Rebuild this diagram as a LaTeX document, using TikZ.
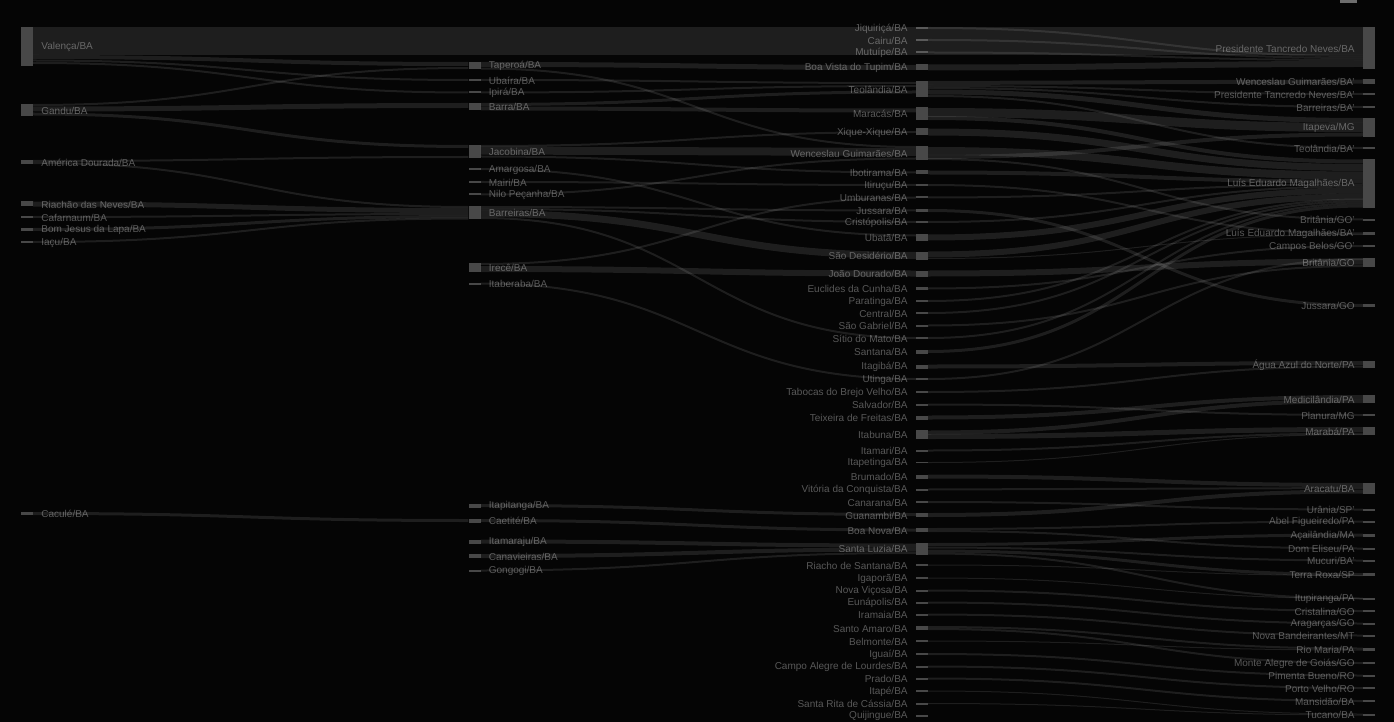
\documentclass[tikz,border=0pt]{standalone}
\usepackage{fontspec}
\setmainfont{Liberation Sans}
\usetikzlibrary{positioning, calc}
\definecolor{sk-bg}{RGB}{5,5,5}
\definecolor{sk-bar}{RGB}{72,72,72}
\definecolor{sk-text}{RGB}{88,88,88}

% band between two nodes: source, source offset, target, target offset, width
\newcommand{\flow}[5]{\draw[link=#5] let \p1=($(#1.east)+(0,#2)$), \p2=($(#3.west)+(0,#4)$) in
  (\p1) .. controls ({0.5*\x1+0.5*\x2},\y1) and ({0.5*\x1+0.5*\x2},\y2) .. (\p2);}

\begin{document}
\begin{tikzpicture}[
    x=1pt, y=-1pt,
    bar/.style={rectangle, fill=sk-bar, inner sep=0pt, minimum width=12pt, minimum height=#1},
    lbl/.style={text=sk-text, font=\fontsize{10}{12}\selectfont, inner sep=0pt, yshift=-0.8pt},
    lr/.style={label={[lbl, label distance=8pt]right:#1}},
    ll/.style={label={[lbl, label distance=8pt]left:#1}},
    link/.style={draw=white, draw opacity=0.1, line width=#1pt}
]
\fill[sk-bg] (0,0) rectangle (1394,722);
\useasboundingbox (0,0) rectangle (1394,722);
\node[rectangle, fill=sk-bar!80, inner sep=0pt, minimum width=17pt, minimum height=3pt] (menu) at (1348.5,1.5) {};

% column 1
\node[bar=39pt, lr={Valença/BA}] (valenca) at (27,46.5) {};
\node[bar=12pt, lr={Gandu/BA}] (gandu) at (27,110) {};
\node[bar=4pt, lr={América Dourada/BA}] (amdourada) at (27,162) {};
\node[bar=5pt, lr={Riachão das Neves/BA}] (riachao) at (27,204) {};
\node[bar=2pt, lr={Cafarnaum/BA}] (cafarnaum) at (27,217) {};
\node[bar=3pt, lr={Bom Jesus da Lapa/BA}] (bomjesus) at (27,229.5) {};
\node[bar=2pt, lr={Iaçu/BA}] (iacu) at (27,242) {};
\node[bar=3pt, lr={Caculé/BA}] (cacule) at (27,513.5) {};

% column 2
\node[bar=7pt, lr={Taperoá/BA}] (taperoa) at (474.5,65.5) {};
\node[bar=2pt, lr={Ubaíra/BA}] (ubaira) at (474.5,80) {};
\node[bar=2pt, lr={Ipirá/BA}] (ipira) at (474.5,92.5) {};
\node[bar=7pt, lr={Barra/BA}] (barra) at (474.5,106.5) {};
\node[bar=13pt, lr={Jacobina/BA}] (jacobina) at (474.5,151.5) {};
\node[bar=2pt, lr={Amargosa/BA}] (amargosa) at (474.5,169) {};
\node[bar=2pt, lr={Mairi/BA}] (mairi) at (474.5,182) {};
\node[bar=2pt, lr={Nilo Peçanha/BA}] (nilo) at (474.5,194.5) {};
\node[bar=13pt, lr={Barreiras/BA}] (barreiras) at (474.5,212.5) {};
\node[bar=9pt, lr={Irecê/BA}] (irece) at (474.5,267.5) {};
\node[bar=2pt, lr={Itaberaba/BA}] (itaberaba) at (474.5,283.5) {};
\node[bar=4pt, lr={Itapitanga/BA}] (itapitanga) at (474.5,505.5) {};
\node[bar=4pt, lr={Caetité/BA}] (caetite) at (474.5,520.5) {};
\node[bar=4pt, lr={Itamaraju/BA}] (itamaraju) at (474.5,541.5) {};
\node[bar=4pt, lr={Canavieiras/BA}] (canavieiras) at (474.5,556) {};
\node[bar=2pt, lr={Gongogi/BA}] (gongogi) at (474.5,570.5) {};

% column 3
\foreach \id/\y/\h/\txt in {
    jiquirica/28/2/Jiquiriçá, cairu/40/2/Cairu, mutuipe/52.5/2/Mutuípe,
    boavista/67.5/6/Boa Vista do Tupim, teolandia/89/16/Teolândia,
    maracas/113.5/13/Maracás, xique/132/7/Xique-Xique,
    wenceslau/153/14/Wenceslau Guimarães, ibotirama/172.5/4/Ibotirama,
    itirucu/185/2/Itiruçu, umburanas/197.5/2/Umburanas, jussara/210.5/3/Jussara,
    cristopolis/222/2/Cristópolis, ubata/237.5/7/Ubatã,
    saodesiderio/255.5/8/São Desidério, joaodourado/273.5/6/João Dourado,
    euclides/288.5/3/Euclides da Cunha, paratinga/301/2/Paratinga,
    central/313/2/Central, saogabriel/325.5/2/São Gabriel,
    sitio/338/2/Sítio do Mato, santana/351.5/4/Santana, itagiba/366.5/4/Itagibá,
    utinga/379/2/Utinga, tabocas/392/2/Tabocas do Brejo Velho,
    salvador/404.5/2/Salvador, teixeira/417.5/4/Teixeira de Freitas,
    itabuna/434.5/9/Itabuna, itamari/450.5/2/Itamari,
    itapetinga/462.5/1.5/Itapetinga, brumado/476.5/4/Brumado,
    vitoria/489.5/2/Vitória da Conquista, canarana/502/2/Canarana,
    guanambi/515/4/Guanambi, boanova/530/4/Boa Nova,
    santaluzia/548.5/12/Santa Luzia, riacho/565/2/Riacho de Santana,
    igapora/578/2/Igaporã, novavicosa/590.5/2/Nova Viçosa,
    eunapolis/602.5/2/Eunápolis, iramaia/614.5/2/Iramaia,
    santoamaro/628/4/Santo Amaro, belmonte/641/2/Belmonte, iguai/654/2/Iguaí,
    campoalegre/666.5/2/Campo Alegre de Lourdes, prado/678.5/2/Prado,
    itape/691/2/Itapé, santarita/703.5/2/Santa Rita de Cássia,
    quijingue/715.5/2/Quijingue}
  \node[bar=\h pt, ll={\txt/BA}] (\id) at (922,\y) {};

% column 4
\foreach \id/\y/\h/\txt/\uf in {
    ptn/48/42/Presidente Tancredo Neves/BA, wenceslauP/81.5/5/Wenceslau Guimarães/BA’,
    ptnP/94/2/Presidente Tancredo Neves/BA’, barreirasP/107/2/Barreiras/BA’,
    itapeva/127.5/19/Itapeva/MG, teolandiaP/148/2/Teolândia/BA’,
    lem/183.5/49/Luís Eduardo Magalhães/BA, britaniaP/219.5/2/Britânia/GO’,
    lemP/233.5/3/Luís Eduardo Magalhães/BA’, camposP/246/2/Campos Belos/GO’,
    britania/262.5/9/Britânia/GO, jussaraGO/305.5/3/Jussara/GO,
    aguaazul/364/7/Água Azul do Norte/PA, medicilandia/399/8/Medicilândia/PA,
    planura/415/2/Planura/MG, maraba/431/8/Marabá/PA, aracatu/488.5/11/Aracatu/BA,
    urania/509.5/2/Urânia/SP’, abel/521.5/2/Abel Figueiredo/PA,
    acailandia/535/3/Açailândia/MA, domeliseu/548.5/2/Dom Eliseu/PA,
    mucuri/560.5/2/Mucuri/BA’, terraroxa/574.5/3/Terra Roxa/SP,
    itupiranga/598.5/2/Itupiranga/PA, cristalina/611/2/Cristalina/GO,
    aragarcas/623.5/2/Aragarças/GO, novaband/635.5/2/Nova Bandeirantes/MT,
    riomaria/649/3/Rio Maria/PA, montealegre/663/2/Monte Alegre de Goiás/GO,
    pimenta/675.5/2/Pimenta Bueno/RO, portovelho/688/2/Porto Velho/RO,
    mansidao/701/2/Mansidão/BA, tucano/714.5/2/Tucano/BA}
  \node[bar=\h pt, ll={\txt/\uf}] (\id) at (1369,\y) {};

% links, column 1 onwards
\flow{valenca}{-5.5}{ptn}{-7}{28}
\flow{valenca}{10.5}{taperoa}{-1.5}{4}
\flow{valenca}{14}{ubaira}{0}{2}
\flow{valenca}{16.5}{ipira}{0}{2}
\flow{gandu}{-5}{taperoa}{2.5}{2}
\flow{gandu}{-1}{barra}{-1}{5}
\flow{gandu}{4}{jacobina}{-5}{3}
\flow{amdourada}{-1}{jacobina}{5.5}{2}
\flow{amdourada}{1}{barreiras}{-5.5}{2}
\flow{riachao}{0}{barreiras}{-2}{5}
\flow{cafarnaum}{0}{barreiras}{1.5}{2}
\flow{bomjesus}{0}{barreiras}{4}{3}
\flow{iacu}{0}{barreiras}{6}{2}
\flow{cacule}{0}{caetite}{0}{3}

% column 2 to column 3
\flow{taperoa}{-1}{boavista}{0}{5}
\flow{taperoa}{3}{wenceslau}{-6}{2}
\flow{ubaira}{0}{teolandia}{-6}{2}
\flow{ipira}{0}{teolandia}{-3}{2}
\flow{barra}{-2}{teolandia}{3}{3}
\flow{barra}{2}{maracas}{-3}{4}
\flow{jacobina}{-5.5}{xique}{0}{2}
\flow{jacobina}{-1}{wenceslau}{-1}{8}
\flow{jacobina}{5}{ibotirama}{0}{2}
\flow{amargosa}{0}{ubata}{-2}{2}
\flow{mairi}{0}{itirucu}{0}{2}
\flow{nilo}{0}{wenceslau}{5.5}{2}
\flow{barreiras}{-5.5}{jussara}{0}{2}
\flow{barreiras}{-3.5}{cristopolis}{0}{2}
\flow{barreiras}{1}{saodesiderio}{0}{7}
\flow{barreiras}{5.5}{sitio}{0}{2}
\flow{irece}{-3.5}{umburanas}{0}{2}
\flow{irece}{1.5}{joaodourado}{0}{6}
\flow{itaberaba}{0}{utinga}{0}{2}
\flow{itapitanga}{0}{guanambi}{-0.5}{3}
\flow{caetite}{0}{boanova}{0}{3}
\flow{itamaraju}{0}{santaluzia}{-3}{4}
\flow{canavieiras}{0}{santaluzia}{1}{4}
\flow{gongogi}{0}{santaluzia}{4.5}{2}

% column 3 to column 4
\flow{jiquirica}{0}{ptn}{8}{2}
\flow{cairu}{0}{ptn}{10}{2}
\flow{mutuipe}{0}{ptn}{12}{2}
\flow{boavista}{0}{ptn}{16}{6}
\flow{teolandia}{-6}{wenceslauP}{0}{4}
\flow{teolandia}{-3}{ptnP}{0}{2}
\flow{teolandia}{-1}{barreirasP}{0}{2}
\flow{teolandia}{3}{itapeva}{-7}{5}
\flow{teolandia}{7}{teolandiaP}{0}{2}
\flow{maracas}{-1}{itapeva}{0}{9}
\flow{maracas}{4.5}{lem}{-22}{4}
\flow{xique}{0}{lem}{-16}{7}
\flow{wenceslau}{-2}{lem}{-8}{8}
\flow{wenceslau}{4}{itapeva}{7}{4}
\flow{wenceslau}{6}{britaniaP}{0}{2}
\flow{ibotirama}{0}{lem}{-2}{4}
\flow{itirucu}{0}{lemP}{0}{2}
\flow{umburanas}{0}{lem}{1}{2}
\flow{jussara}{0}{jussaraGO}{0}{3}
\flow{cristopolis}{0}{lem}{3}{2}
\flow{ubata}{0}{lem}{7}{6}
\flow{saodesiderio}{-1}{lem}{13}{6}
\flow{saodesiderio}{3}{lemP}{1}{1}
\flow{joaodourado}{0}{britania}{-1}{6}
\flow{euclides}{0}{camposP}{0}{2}
\flow{paratinga}{0}{lem}{16}{2}
\flow{central}{0}{lem}{18}{2}
\flow{saogabriel}{0}{britania}{3.5}{2}
\flow{sitio}{0}{lem}{20}{2}
\flow{santana}{0}{lem}{22.5}{3}
\flow{itagiba}{0}{aguaazul}{-1}{4}
\flow{utinga}{0}{britania}{-3.5}{2}
\flow{tabocas}{0}{aguaazul}{2.5}{2}
\flow{salvador}{0}{planura}{0}{2}
\flow{teixeira}{0}{medicilandia}{-2}{4}
\flow{itabuna}{-2}{medicilandia}{2}{4}
\flow{itabuna}{2}{maraba}{-1.5}{5}
\flow{itamari}{0}{maraba}{2.5}{2}
\flow{itapetinga}{0}{maraba}{3.5}{1}
\flow{brumado}{0}{aracatu}{-3.5}{4}
\flow{vitoria}{0}{aracatu}{-0.5}{2}
\flow{guanambi}{0}{aracatu}{3}{4}
\flow{canarana}{0}{urania}{0}{2}
\flow{boanova}{-1}{abel}{0}{2}
\flow{boanova}{1}{domeliseu}{0}{2}
\flow{santaluzia}{-4}{acailandia}{0}{3}
\flow{santaluzia}{-1}{mucuri}{0}{2}
\flow{santaluzia}{2.5}{terraroxa}{0}{3}
\flow{santaluzia}{5}{itupiranga}{0}{2}
\flow{riacho}{0}{terraroxa}{1}{1}
\flow{igapora}{0}{itupiranga}{0}{1}
\flow{novavicosa}{0}{cristalina}{0}{2}
\flow{eunapolis}{0}{aragarcas}{0}{2}
\flow{iramaia}{0}{novaband}{0}{2}
\flow{santoamaro}{-1}{riomaria}{-0.5}{2}
\flow{santoamaro}{1}{montealegre}{0}{2}
\flow{belmonte}{0}{riomaria}{1}{1}
\flow{iguai}{0}{pimenta}{0}{2}
\flow{campoalegre}{0}{portovelho}{0}{2}
\flow{prado}{0}{mansidao}{0}{2}
\flow{itape}{0}{tucano}{-0.5}{1}
\flow{santarita}{0}{tucano}{0.5}{1}
\end{tikzpicture}
\end{document}
